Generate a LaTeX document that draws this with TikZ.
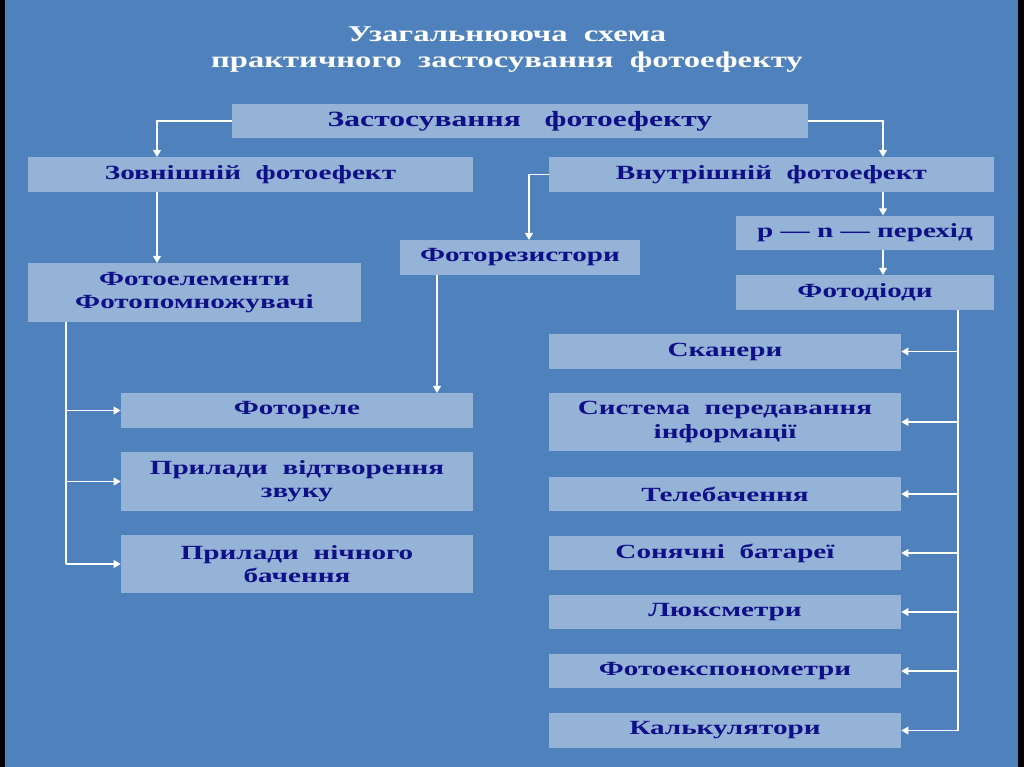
\documentclass[tikz,border=0pt]{standalone}
\usepackage{fontspec}
\usetikzlibrary{arrows.meta}
\newfontfamily\boxfont[FakeStretch=1.45]{Liberation Serif}
\definecolor{bgblue}{RGB}{79,129,189}
\definecolor{boxblue}{RGB}{149,179,215}
\definecolor{ink}{RGB}{15,15,135}
\tikzset{
  box/.style={fill=boxblue, text=ink, font=\boxfont\bfseries\fontsize{14.3}{16.5}\selectfont,
    align=center, minimum height=0.86cm, inner sep=1pt},
  tall/.style={box, minimum height=1.46cm},
  line/.style={draw=white, line width=1.1pt},
  arr/.style={line, -{Triangle[length=5pt,width=5.5pt]}}
}
\begin{document}
\begin{tikzpicture}[x=0.025cm,y=-0.025cm]
	\useasboundingbox (0,0) rectangle (1024,767);
	\fill[black] (0,0) rectangle (1024,767);
	\fill[bgblue] (5,0) rectangle (1018,767);
	\node[text=white, align=center, font=\boxfont\bfseries\fontsize{16}{18.5}\selectfont] (title) at (507,50)
		{Узагальнююча~~схема\\практичного~~застосування~~фотоефекту};
	% upper part
	\node[box, minimum width=14.4cm, font=\boxfont\bfseries\fontsize{15.5}{17}\selectfont] (app) at (520,121) {Застосування~~~фотоефекту};
	\node[box, minimum width=11.125cm] (ext) at (250.5,174.5) {Зовнішній~~фотоефект};
	\node[box, minimum width=11.125cm] (int) at (771.5,174.5) {Внутрішній~~фотоефект};
	\node[box, minimum width=6.45cm] (pn) at (865,233) {p — n — перехід};
	\node[box, minimum width=6.45cm] (diod) at (865,292.5) {Фотодіоди};
	\node[box, minimum width=6cm] (res) at (520,257.5) {Фоторезистори};
	\node[tall, minimum width=8.325cm] (elem) at (194.5,292.5) {Фотоелементи\\Фотопомножувачі};
	% left column
	\node[box, minimum width=8.8cm] (relay) at (297,410.5) {Фотореле};
	\node[tall, minimum width=8.8cm] (sound) at (297,481.5) {Прилади~~відтворення\\звуку};
	\node[tall, minimum width=8.8cm] (night) at (297,564) {Прилади~~нічного\\бачення};
	% right column
	\node[box, minimum width=8.8cm] (scan) at (725,351.5) {Сканери};
	\node[tall, minimum width=8.8cm] (info) at (725,422) {Система~~передавання\\інформації};
	\node[box, minimum width=8.8cm] (tv) at (725,494) {Телебачення};
	\node[box, minimum width=8.8cm] (solar) at (725,553) {Сонячні~~батареї};
	\node[box, minimum width=8.8cm] (lux) at (725,612) {Люксметри};
	\node[box, minimum width=8.8cm] (expo) at (725,671) {Фотоекспонометри};
	\node[box, minimum width=8.8cm] (calc) at (725,730.5) {Калькулятори};
	% connectors
	\coordinate (xa) at (157,0); \coordinate (xb) at (883,0); \coordinate (xc) at (529,0);
	\coordinate (xd) at (437,0); \coordinate (xe) at (66,0); \coordinate (xf) at (958,0);
	\draw[arr] (app.west) -| (xa |- ext.north);
	\draw[arr] (app.east) -| (xb |- int.north);
	\draw[arr] (int.west) -| (xc |- res.north);
	\draw[arr] (xa |- ext.south) -- (xa |- elem.north);
	\draw[arr] (xb |- int.south) -- (xb |- pn.north);
	\draw[arr] (xb |- pn.south) -- (xb |- diod.north);
	\draw[arr] (xd |- res.south) -- (xd |- relay.north);
	\draw[line] (xe |- elem.south) -- (xe |- night.west);
	\foreach \n in {relay,sound,night}
		\draw[arr] (xe |- \n.west) -- (\n.west);
	\draw[line] (xf |- diod.south) -- (xf |- calc.east);
	\foreach \n in {scan,info,tv,solar,lux,expo,calc}
		\draw[arr] (xf |- \n.east) -- (\n.east);
\end{tikzpicture}
\end{document}
